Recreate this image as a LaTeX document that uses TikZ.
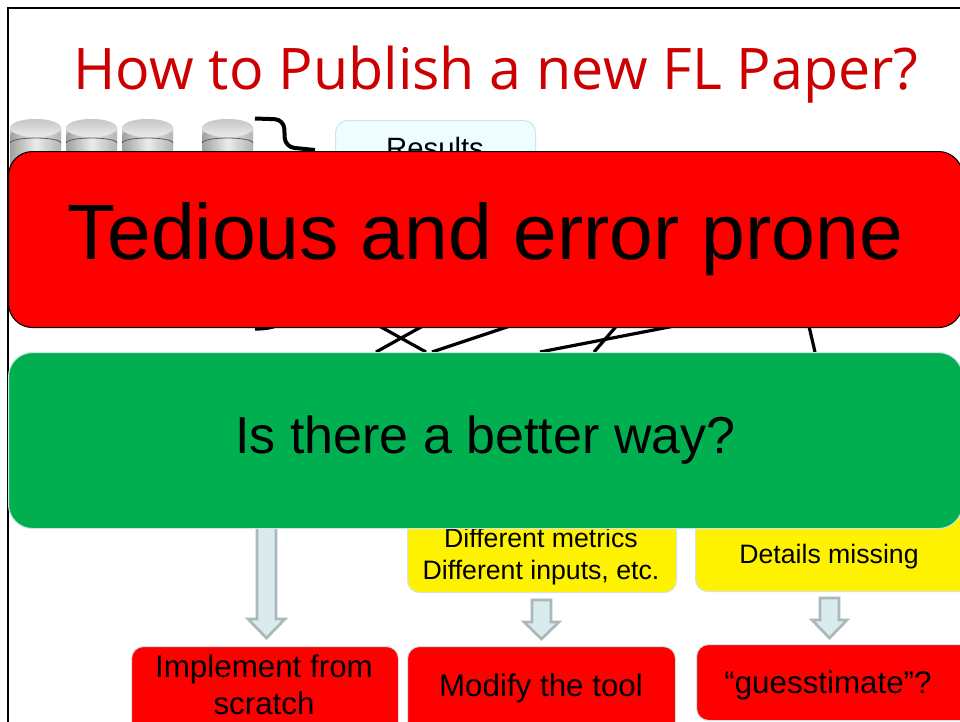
\documentclass[tikz,border=0pt]{standalone}
\usepackage{fontspec}
\setmainfont{Liberation Sans}
\newfontfamily\titlefont{Open Sans}
\definecolor{titlered}{HTML}{CC0000}
\definecolor{palerim}{HTML}{D3E3E6}
\definecolor{resfill}{HTML}{EEFDFF}
\definecolor{arrowfill}{HTML}{DAEBEE}
\definecolor{arrowrim}{HTML}{A9B9BA}
\definecolor{bannergreen}{HTML}{00B050}
\tikzset{
  boxbase/.style={draw=palerim,line width=0.8pt,rounded corners=9pt,inner sep=0pt,align=center,anchor=north west},
  redbox/.style={boxbase,fill=red},
  yellowbox/.style={boxbase,fill=yellow},
  resbox/.style={boxbase,fill=resfill},
  banner/.style={rounded corners=18pt,inner sep=0pt,align=center,anchor=north west,minimum width=715.5pt,minimum height=132pt},
  lab/.style={inner sep=0pt,anchor=base,align=center},
  link/.style={line width=2.4pt,black},
  blockarrow/.style={fill=arrowfill,draw=arrowrim,line width=2pt,line join=miter}
}
\begin{document}
\begin{tikzpicture}[x=0.75pt,y=-0.75pt]
\useasboundingbox (0,0) rectangle (960,721);
\clip (0,0) rectangle (960,721);
\fill[white] (0,0) rectangle (960,721);
% slide frame
\coordinate (fa) at (7.5,730);
\coordinate (fb) at (7.5,8);
\coordinate (fc) at (970,8);
\draw[line width=1.5pt,black] (fa) -- (fb) -- (fc);
% title
\node[lab,text=titlered,font=\titlefont\fontsize{43}{50}\selectfont] (title) at (496,89) {How to Publish a new FL Paper?};
% disks
\foreach \n/\xa in {d1/10,d2/66,d3/122,d4/202}{
  \begin{scope}[shift={(\xa,0)}]
    \shade[left color=gray!75,right color=gray!60,middle color=gray!15]
      (0,128) -- (0,170) -- (51,170) -- (51,128) -- cycle;
    \shade[top color=gray!15,bottom color=gray!55]
      (0,128) arc[x radius=25.5,y radius=9,start angle=180,end angle=360] -- (51,136)
      arc[x radius=25.5,y radius=9,start angle=360,end angle=180] -- cycle;
    \draw[gray!70!black,line width=0.6pt] (0,143) arc[x radius=25.5,y radius=5,start angle=180,end angle=360];
    \shade[top color=gray!45,bottom color=gray!15] (25.5,128) ellipse[x radius=25.5,y radius=9];
  \end{scope}
}
% results box
\node[resbox,minimum width=150pt,minimum height=90pt] (results) at (335,120) {};
\node[lab,font=\fontsize{22}{26}\selectfont] (reslab) at (435,158) {Results};
% curly brace and crossing links
\coordinate (ba) at (255,118.5);
\coordinate (bc) at (315,150);
\draw[link,line width=3pt,rounded corners=7pt] (ba) -- (284,119.5) -- (285,147) -- (bc);
\coordinate (la1) at (372,322); \coordinate (lb1) at (426,352);
\coordinate (la2) at (430,322); \coordinate (lb2) at (376,352);
\coordinate (la3) at (522,322); \coordinate (lb3) at (432,352);
\coordinate (la4) at (695,322); \coordinate (lb4) at (540,352);
\coordinate (la5) at (620,322); \coordinate (lb5) at (594,352);
\coordinate (la6) at (808,322); \coordinate (lb6) at (815,352);
\coordinate (ca) at (255,329);
\coordinate (cb) at (285,322);
\draw[link] (la1) -- (lb1);
\draw[link] (la2) -- (lb2);
\draw[link] (la3) -- (lb3);
\draw[link] (la4) -- (lb4);
\draw[link] (la5) -- (lb5);
\draw[link] (la6) -- (lb6);
\draw[link] (ca) .. controls (268,329) and (276,327) .. (cb);
% yellow boxes
\node[yellowbox,minimum width=201.75pt,minimum height=75pt] (y1) at (407,492) {};
\node[yellowbox,minimum width=225pt,minimum height=74.25pt] (y2) at (695,492) {};
\node[lab,font=\fontsize{20}{24}\selectfont] (y1a) at (541,547.5) {Different metrics};
\node[lab,font=\fontsize{20}{24}\selectfont] (y1b) at (541,579.5) {Different inputs, etc.};
\node[lab,font=\fontsize{20}{24}\selectfont] (y2a) at (829,563) {Details missing};
% block arrows
\draw[blockarrow] (257,500) -- (257,619) -- (248,619) -- (266.5,638) -- (285,619) -- (276,619) -- (276,500) -- cycle;
\draw[blockarrow] (532,600) -- (532,622) -- (524,622) -- (541.5,639) -- (559,622) -- (551,622) -- (551,600) -- cycle;
\draw[blockarrow] (820,598) -- (820,620) -- (812,620) -- (829.5,638) -- (847,620) -- (839,620) -- (839,598) -- cycle;
% red boxes
\node[redbox,minimum width=200.25pt,minimum height=75pt] (r1) at (131,646) {};
\node[redbox,minimum width=201pt,minimum height=75pt] (r2) at (407,646) {};
\node[redbox,minimum width=225pt,minimum height=57pt] (r3) at (696,644) {};
\node[lab,font=\fontsize{23.5}{28}\selectfont] (r1a) at (264,677) {Implement from};
\node[lab,font=\fontsize{23.5}{28}\selectfont] (r1b) at (264,714) {scratch};
\node[lab,font=\fontsize{23.5}{28}\selectfont] (r2a) at (541,696) {Modify the tool};
\node[lab,font=\fontsize{23.5}{28}\selectfont] (r3a) at (828,693) {“guesstimate”?};
% banners
\node[banner,fill=red,draw=black,line width=0.8pt,font=\fontsize{59}{70}\selectfont] (b1) at (8,151) {Tedious and error prone};
\node[banner,fill=bannergreen,draw=palerim,line width=0.8pt,font=\fontsize{39}{46}\selectfont] (b2) at (8,352) {Is there a better way?};
\end{tikzpicture}
\end{document}
